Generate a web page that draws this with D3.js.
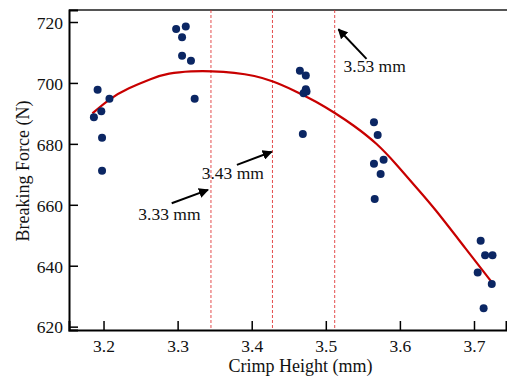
<!DOCTYPE html>
<html>
<head>
<meta charset="utf-8">
<script src="https://cdn.jsdelivr.net/npm/d3@7"></script>
<style>
	body { margin: 0; background: #fff; }
	svg text { font-family: "Liberation Serif", "DejaVu Serif", "Times New Roman", serif; fill: #111; }
</style>
</head>
<body>
<svg id="chart" width="507" height="377"></svg>
<script>
// measured points (crimp height mm, breaking force N)
const crimpHeight = [3.187, 3.192, 3.197, 3.208, 3.198, 3.198,
	3.298, 3.311, 3.306, 3.306, 3.318, 3.323,
	3.465, 3.473, 3.473, 3.470, 3.474, 3.469,
	3.565, 3.570, 3.578, 3.565, 3.574, 3.566,
	3.709, 3.715, 3.725, 3.705, 3.724, 3.713];
const breakingForce = [688.7, 697.8, 690.7, 694.8, 682.0, 671.2,
	717.7, 718.5, 715.0, 708.9, 707.3, 694.8,
	704.0, 702.4, 697.9, 696.6, 697.2, 683.2,
	687.1, 682.9, 674.8, 673.5, 670.1, 661.9,
	648.2, 643.4, 643.4, 637.8, 634.0, 626.0];

// fitted curve
const fitX = [3.185, 3.209, 3.233, 3.265, 3.287, 3.319, 3.346, 3.377, 3.404, 3.428,
	3.456, 3.488, 3.512, 3.537, 3.569, 3.596, 3.623, 3.645, 3.690, 3.726];
const fitY = [690.0, 695.0, 698.2, 701.5, 703.2, 703.9, 703.9, 703.4, 702.4, 700.7,
	697.7, 693.8, 690.2, 686.2, 680.2, 673.1, 665.4, 659.4, 645.2, 634.0];

// dashed marker lines and their labels
const markerX = [3.345, 3.428, 3.512];
const markerLabels = ['3.33 mm', '3.43 mm', '3.53 mm'];
const labelPos = [[3.247, 655.0], [3.3325, 668.4], [3.524, 703.7]];
const arrowFrom = [[3.292, 660.5], [3.380, 673.1], [3.555, 707.9]];
const arrowTo = [[3.341, 664.9], [3.427, 677.4], [3.517, 717.6]];

const xTicks = [3.2, 3.3, 3.4, 3.5, 3.6, 3.7];
const yTicks = [620, 640, 660, 680, 700, 720];

const plot = { left: 69, right: 506, top: 10, bottom: 330 };
const serif = '"Liberation Serif", "DejaVu Serif", "Times New Roman", serif';

const svg = d3.select('#chart');

const x = d3.scaleLinear()
	.domain([3.1534, 3.7432])
	.range([plot.left, plot.right]);
const y = d3.scaleLinear()
	.domain([618.9, 723.94])
	.range([plot.bottom, plot.top]);

svg.append('defs').append('marker')
	.attr('id', 'head')
	.attr('viewBox', '0 0 10 10')
	.attr('refX', 9)
	.attr('refY', 5)
	.attr('markerWidth', 5)
	.attr('markerHeight', 5)
	.attr('markerUnits', 'strokeWidth')
	.attr('orient', 'auto')
	.append('path')
	.attr('d', 'M0,0 L10,5 L0,10 Z')
	.style('fill', '#000');

// top frame line
svg.append('line')
	.attr('x1', plot.left).attr('x2', plot.right + 1)
	.attr('y1', plot.top).attr('y2', plot.top)
	.style('stroke', '#555')
	.style('stroke-width', 2);

// dashed markers
svg.selectAll('.marker-line')
	.data(markerX)
	.enter().append('line')
	.attr('class', 'marker-line')
	.attr('x1', d => x(d)).attr('x2', d => x(d))
	.attr('y1', plot.top).attr('y2', plot.bottom)
	.style('stroke', '#e03030')
	.style('stroke-width', 1)
	.style('stroke-dasharray', '3,2')
	.style('opacity', 0.85);

// axes
const xAxis = svg.append('g')
	.attr('transform', 'translate(0,' + plot.bottom + ')')
	.call(d3.axisBottom(x).tickValues(xTicks).tickSize(-9).tickPadding(10).tickFormat(d3.format('.1f')));
const yAxis = svg.append('g')
	.attr('transform', 'translate(' + plot.left + ',0)')
	.call(d3.axisLeft(y).tickValues(yTicks).tickSize(-9).tickPadding(6));

[xAxis, yAxis].forEach(function(g) {
	g.attr('font-family', serif);
	g.select('.domain').style('stroke', '#000').style('stroke-width', 2);
	g.selectAll('.tick line').style('stroke', '#000').style('stroke-width', 1.5);
	g.selectAll('.tick text')
		.style('font-family', serif)
		.style('font-size', '17.5px')
		.style('fill', '#111');
});
yAxis.selectAll('.tick text').attr('dy', '0.36em');

// fitted curve
const fitPoints = fitX.map((d, i) => [d, fitY[i]]);
svg.append('path')
	.datum(fitPoints)
	.attr('d', d3.line()
		.x(d => x(d[0]))
		.y(d => y(d[1]))
		.curve(d3.curveBasis))
	.style('fill', 'none')
	.style('stroke', '#c80000')
	.style('stroke-width', 2.2);

// points
svg.selectAll('.dot')
	.data(crimpHeight.map((d, i) => [d, breakingForce[i]]))
	.enter().append('circle')
	.attr('class', 'dot')
	.attr('cx', d => x(d[0]))
	.attr('cy', d => y(d[1]))
	.attr('r', 4)
	.style('fill', '#0b2663');

// annotations
svg.selectAll('.arrow')
	.data(arrowFrom)
	.enter().append('line')
	.attr('class', 'arrow')
	.attr('x1', d => x(d[0])).attr('y1', d => y(d[1]))
	.attr('x2', (d, i) => x(arrowTo[i][0])).attr('y2', (d, i) => y(arrowTo[i][1]))
	.attr('marker-end', 'url(#head)')
	.style('stroke', '#000')
	.style('stroke-width', 2);

svg.selectAll('.note')
	.data(markerLabels)
	.enter().append('text')
	.attr('class', 'note')
	.attr('x', (d, i) => x(labelPos[i][0]))
	.attr('y', (d, i) => y(labelPos[i][1]))
	.style('font-family', serif)
	.style('font-size', '17.5px')
	.text(d => d);

// axis titles
svg.append('text')
	.attr('x', 300.5)
	.attr('y', 372)
	.attr('text-anchor', 'middle')
	.style('font-family', serif)
	.style('font-size', '18px')
	.text('Crimp Height (mm)');
svg.append('text')
	.attr('transform', 'translate(29,171) rotate(-90)')
	.attr('text-anchor', 'middle')
	.style('font-family', serif)
	.style('font-size', '18px')
	.text('Breaking Force (N)');
</script>
</body>
</html>
